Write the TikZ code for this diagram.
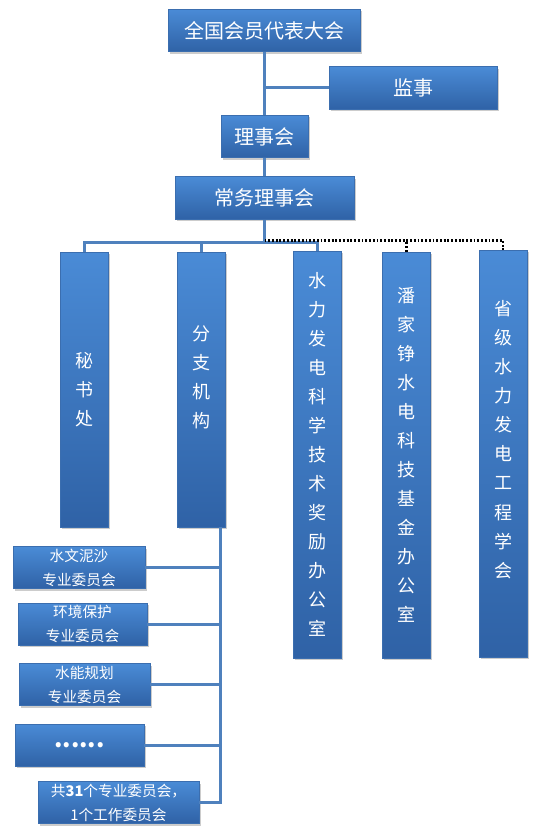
\documentclass[tikz,border=0pt]{standalone}
\usepackage{fontspec}
\setmainfont{Noto Sans CJK SC}
\usepackage{tikz}
\usetikzlibrary{shadows}
\definecolor{BoxTop}{HTML}{4A8BD6}
\definecolor{BoxBottom}{HTML}{2F62A6}
\definecolor{BoxEdge}{HTML}{3B6EAF}
\definecolor{LinkBlue}{HTML}{4F81BD}

\tikzset{
  orgbox/.style={draw=BoxEdge, line width=0.5pt, top color=BoxTop, bottom color=BoxBottom,
    text=white, inner sep=0pt, align=center,
    drop shadow={opacity=0.4, shadow xshift=1.2pt, shadow yshift=-1.5pt}},
  headbox/.style={orgbox, font=\fontsize{15}{18}\selectfont, minimum height=32pt},
  tallbox/.style={orgbox, font=\fontsize{13.5}{21.8}\selectfont, minimum width=36pt},
  subbox/.style={orgbox, font=\fontsize{11}{18}\selectfont, minimum height=31.5pt},
  link/.style={LinkBlue, line width=2.25pt},
  dotlink/.style={black, line width=1.9pt, dash pattern=on 1.4pt off 1.4pt},
}

\begin{document}
\begin{tikzpicture}[x=0.75pt, y=-0.75pt]
    \useasboundingbox (0,0) rectangle (549,838);
    % Top levels
    \node[headbox, minimum width=144pt] (congress) at (264.5,30.5) {全国会员代表大会};
    \node[headbox, minimum width=126pt] (supervisor) at (413,88) {监事};
    \node[headbox, minimum width=65.25pt] (council) at (264.5,136.5) {理事会};
    \node[headbox, minimum width=134.25pt] (standing) at (264.5,198) {常务理事会};
    % Offices
    \node[tallbox, minimum height=206.25pt] (secretariat) at (84,389.5) {秘\\书\\处};
    \node[tallbox, minimum height=206.25pt, text depth=19.5pt] (branches) at (201.5,389.5)
    {分\\支\\机\\构};
    \node[tallbox, minimum height=305.25pt] (award) at (317.5,454.5)
    {水\\力\\发\\电\\科\\学\\技\\术\\奖\\励\\办\\公\\室};
    \node[tallbox, minimum height=304.5pt] (fund) at (406.5,455)
    {潘\\家\\铮\\水\\电\\科\\技\\基\\金\\办\\公\\室};
    \node[tallbox, minimum height=305.25pt, text depth=22pt] (provincial) at (503,453.5)
    {省\\级\\水\\力\\发\\电\\工\\程\\学\\会};
    % Committees
    \node[subbox, minimum width=99pt] (sediment) at (79,567.5) {水文泥沙\\专业委员会};
    \node[subbox, minimum width=96.75pt] (environment) at (82.5,624) {环境保护\\专业委员会};
    \node[subbox, minimum width=98.25pt] (planning) at (84.5,684.5) {水能规划\\专业委员会};
    \node[subbox, minimum width=96.75pt] (more) at (79.5,745)
    {\fontsize{18}{18}\selectfont\bfseries\raisebox{-4pt}{......}};
    \node[subbox, minimum width=120.75pt] (total) at (118.5,802.5)
    {共\textbf{31}个专业委员会，\\1个工作委员会};
    % Spine
    \draw[link] (congress) -- (council);
    \draw[link] (council) -- (standing);
    \draw[link] (supervisor.west) -- (supervisor.west -| congress.south);
    % Bus
    \coordinate (bus) at (264.5,242);
    \coordinate (dotbus) at (264.5,240.6);
    \draw[link] (standing) -- (bus);
    \draw[link] (secretariat.north) |- (bus) -| (award.north);
    \draw[link] (branches.north) -- (branches.north |- bus);
    \draw[dotlink] (dotbus) -| (provincial.north);
    \draw[dotlink] (fund.north) -- (fund.north |- dotbus);
    % Drop to committees
    \coordinate (drop) at (220,527);
    \draw[link] (drop) |- (total.east);
    \foreach \c in {sediment,environment,planning,more}
      \draw[link] (\c.east) -- (\c.east -| drop);
\end{tikzpicture}
\end{document}
